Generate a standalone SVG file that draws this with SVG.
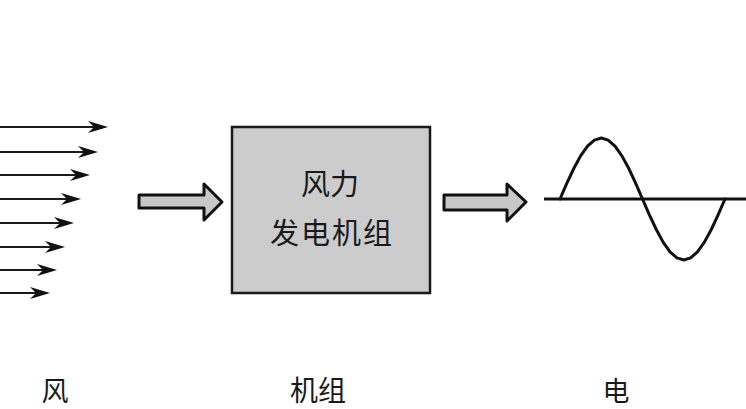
<svg xmlns="http://www.w3.org/2000/svg" width="746" height="409" viewBox="0 0 746 409">
<defs>
<style>
.wind{stroke:#1a1a1a;stroke-width:2;fill:none}
.head{fill:#111;stroke:none}
.block{fill:#c8c8c8;stroke:#111;stroke-width:3;stroke-linejoin:round}
.txt{font-family:"Noto Sans CJK SC","Noto Sans",sans-serif;fill:#1a1a1a;text-anchor:middle}
</style>
</defs>
<g id="connectors">
<g id="wind-arrows">
<line class="wind" x1="-5" y1="127" x2="94" y2="127"/><path class="head" d="M108,127 L88,121 L94,127 L88,133 Z"/>
<line class="wind" x1="-5" y1="152" x2="84" y2="152"/><path class="head" d="M98,152 L78,146 L84,152 L78,158 Z"/>
<line class="wind" x1="-5" y1="175" x2="76" y2="175"/><path class="head" d="M90,175 L70,169 L76,175 L70,181 Z"/>
<line class="wind" x1="-5" y1="199" x2="67" y2="199"/><path class="head" d="M81,199 L61,193 L67,199 L61,205 Z"/>
<line class="wind" x1="-5" y1="223" x2="60" y2="223"/><path class="head" d="M74,223 L54,217 L60,223 L54,229 Z"/>
<line class="wind" x1="-5" y1="247" x2="51" y2="247"/><path class="head" d="M65,247 L45,241 L51,247 L45,253 Z"/>
<line class="wind" x1="-5" y1="270" x2="43" y2="270"/><path class="head" d="M57,270 L37,264 L43,270 L37,276 Z"/>
<line class="wind" x1="-5" y1="293" x2="36" y2="293"/><path class="head" d="M50,293 L30,287 L36,293 L30,299 Z"/>
</g>
<polygon id="arrow-in" class="block" points="139,195 204,195 204,184 222,202 204,220 204,208 139,208"/>
<polygon id="arrow-out" class="block" points="444,195 507,195 507,184 526,202 507,221 507,210 444,210"/>
</g>
<g id="generator">
<rect x="232" y="127" width="198" height="166" fill="#cccccc" stroke="#1a1a1a" stroke-width="2.5"/>
<text class="txt" x="330" y="195" font-size="29">风力</text>
<text class="txt" x="332" y="244" font-size="29" letter-spacing="2">发电机组</text>
</g>
<g id="electricity">
<line x1="544" y1="199" x2="746" y2="199" stroke="#111" stroke-width="3"/>
<polyline fill="none" stroke="#111" stroke-width="3" stroke-linejoin="round" stroke-linecap="round" points="560,199 566.9,183.2 573.8,168.5 580.6,155.9 587.5,146.2 594.4,140.1 601.3,138 608.1,140.1 615,146.2 621.9,155.9 628.8,168.5 635.6,183.2 642.5,199 649.4,214.8 656.3,229.5 663.1,242.1 670,251.8 676.9,257.9 683.8,260 690.6,257.9 697.5,251.8 704.4,242.1 711.3,229.5 718.1,214.8 725,199"/>
</g>
<g id="labels">
<text class="txt" x="55" y="401" font-size="27">风</text>
<text class="txt" x="318" y="401" font-size="28">机组</text>
<text class="txt" x="616" y="401" font-size="27">电</text>
</g>
</svg>
